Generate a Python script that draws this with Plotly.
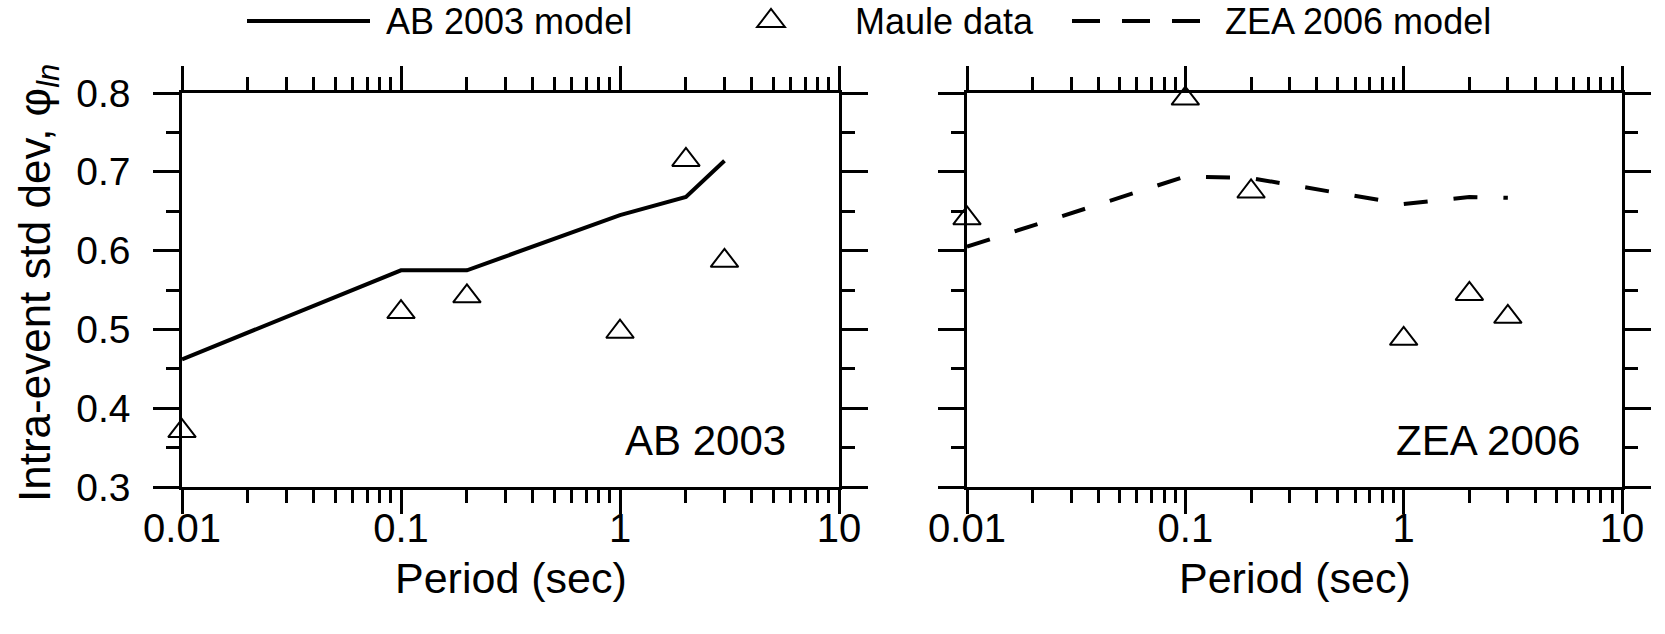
import plotly.graph_objects as go

# Spectral periods (sec) at which the models and the Maule residuals are evaluated
periods = [0.01, 0.1, 0.2, 1, 2, 3]

# Intra-event standard deviation (phi_ln) predicted by each model
ab2003_model = [0.462, 0.575, 0.575, 0.645, 0.668, 0.714]
zea2006_model = [0.605, 0.694, 0.692, 0.659, 0.668, 0.667]

# Intra-event standard deviation computed from the Maule records, per model
maule_ab2003 = [0.371, 0.522, 0.542, 0.497, 0.715, 0.587]
maule_zea2006 = [0.641, 0.793, 0.675, 0.488, 0.545, 0.516]

x_tickvals = [0.01, 0.1, 1, 10]
x_ticktext = ["0.01", "0.1", "1", "10"]
y_tickvals = [0.3, 0.4, 0.5, 0.6, 0.7, 0.8]
y_ticktext = ["0.3", "0.4", "0.5", "0.6", "0.7", "0.8"]

W, H = 1665, 634
FONT = "Liberation Sans, Arial, sans-serif"
BLACK = "#000000"

fig = go.Figure()

fig.add_trace(go.Scatter(x=periods, y=ab2003_model, mode="lines",
                         line=dict(color=BLACK, width=4),
                         xaxis="x", yaxis="y", showlegend=False))
fig.add_trace(go.Scatter(x=periods, y=maule_ab2003, mode="markers",
                         marker=dict(symbol="triangle-up-open", size=24, color=BLACK,
                                     line=dict(width=2, color=BLACK)),
                         cliponaxis=False, xaxis="x", yaxis="y", showlegend=False))
fig.add_trace(go.Scatter(x=periods, y=zea2006_model, mode="lines",
                         line=dict(color=BLACK, width=4, dash="24px,26px"),
                         xaxis="x2", yaxis="y2", showlegend=False))
fig.add_trace(go.Scatter(x=periods, y=maule_zea2006, mode="markers",
                         marker=dict(symbol="triangle-up-open", size=24, color=BLACK,
                                     line=dict(width=2, color=BLACK)),
                         cliponaxis=False, xaxis="x2", yaxis="y2", showlegend=False))

px_domain = lambda a, b: [a / W, b / W]
y_domain = [1 - 487 / H, 1 - 93 / H]

common_x = dict(
    type="log", range=[-2, 1], tickmode="array", tickvals=x_tickvals, ticktext=x_ticktext,
    ticks="outside", ticklen=24, tickwidth=2.5, tickcolor=BLACK,
    minor=dict(dtick="D1", ticks="outside", ticklen=13,
               tickwidth=2.5, tickcolor=BLACK, showgrid=False),
    showline=True, linewidth=2.5, linecolor=BLACK, mirror="ticks",
    showgrid=False, zeroline=False, automargin=False,
    tickfont=dict(family=FONT, size=40, color=BLACK), ticklabelstandoff=-20,
)
common_y = dict(
    range=[0.3, 0.8], tickmode="array", tickvals=y_tickvals, ticktext=y_ticktext,
    ticks="outside", ticklen=26, tickwidth=2.5, tickcolor=BLACK,
    minor=dict(dtick=0.05, tick0=0.3, ticks="outside", ticklen=13,
               tickwidth=2.5, tickcolor=BLACK, showgrid=False),
    showline=True, linewidth=2.5, linecolor=BLACK, mirror="ticks",
    showgrid=False, zeroline=False, automargin=False,
    tickfont=dict(family=FONT, size=39, color=BLACK), ticklabelstandoff=15,
)

fig.update_layout(
    width=W, height=H,
    margin=dict(l=0, r=0, t=0, b=0, autoexpand=False),
    paper_bgcolor="white", plot_bgcolor="white",
    showlegend=False,
    font=dict(family=FONT, color=BLACK),
    xaxis=dict(common_x, domain=px_domain(182, 839), anchor="y"),
    yaxis=dict(common_y, domain=y_domain, anchor="x"),
    xaxis2=dict(common_x, domain=px_domain(967, 1622), anchor="y2"),
    yaxis2=dict(common_y, domain=y_domain, anchor="x2", showticklabels=False),
)

# Legend keys
fig.add_shape(type="line", xref="paper", yref="paper",
              x0=247 / W, x1=370 / W, y0=1 - 21 / H, y1=1 - 21 / H,
              line=dict(color=BLACK, width=4))
fig.add_shape(type="path", xref="paper", yref="paper",
              xsizemode="pixel", ysizemode="pixel",
              xanchor=771 / W, yanchor=1 - 21 / H,
              path="M-13.9,-6 L13.9,-6 L0,12 Z",
              line=dict(color=BLACK, width=2))
fig.add_shape(type="line", xref="paper", yref="paper",
              x0=1072 / W, x1=1205 / W, y0=1 - 21 / H, y1=1 - 21 / H,
              line=dict(color=BLACK, width=4, dash="28px,22px"))

legend_labels = [("AB 2003 model", 384), ("Maule data", 853), ("ZEA 2006 model", 1223)]
for text, xpos in legend_labels:
    fig.add_annotation(text=text, xref="paper", yref="paper", x=xpos / W, y=1 - 21 / H,
                       xanchor="left", yanchor="middle", showarrow=False,
                       font=dict(family=FONT, size=36, color=BLACK))

# Panel labels
fig.add_annotation(text="AB 2003", xref="paper", yref="paper", x=788 / W, y=1 - 440 / H,
                   xanchor="right", yanchor="middle", showarrow=False,
                   font=dict(family=FONT, size=42, color=BLACK))
fig.add_annotation(text="ZEA 2006", xref="paper", yref="paper", x=1582 / W, y=1 - 440 / H,
                   xanchor="right", yanchor="middle", showarrow=False,
                   font=dict(family=FONT, size=42, color=BLACK))

# Axis titles
for xc in ((182 + 839) / 2, (967 + 1622) / 2):
    fig.add_annotation(text="Period (sec)", xref="paper", yref="paper", x=xc / W, y=1 - 578 / H,
                       xanchor="center", yanchor="middle", showarrow=False,
                       font=dict(family=FONT, size=43, color=BLACK))
fig.add_annotation(text="Intra-event std dev, \u03c6<sub><i>ln</i></sub>",
                   xref="paper", yref="paper", x=38 / W, y=1 - 283 / H,
                   xanchor="center", yanchor="middle", textangle=-90, showarrow=False,
                   font=dict(family=FONT, size=44, color=BLACK))

fig.write_html("out.html")
